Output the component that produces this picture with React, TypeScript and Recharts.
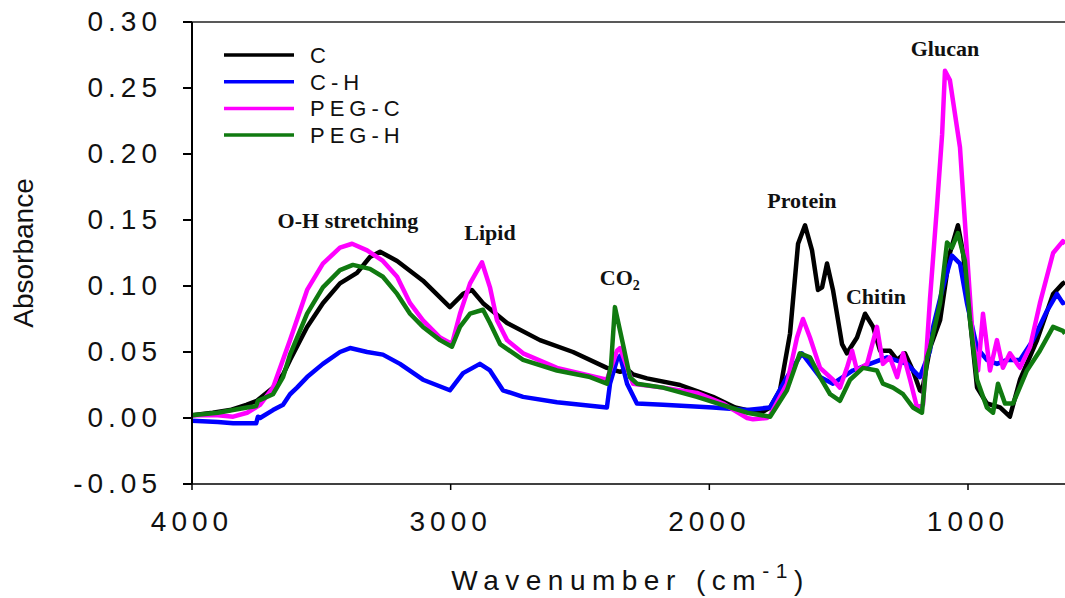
import React from "react";
import { LineChart, Line, XAxis, YAxis, ReferenceLine, ReferenceDot, Legend } from "recharts";

const SANS = '"Liberation Sans", Arial, sans-serif';
const SERIF = '"Liberation Serif", "Times New Roman", serif';

// wavenumber (cm-1) / absorbance
const C_X = [4000, 3920, 3853, 3790, 3749, 3687, 3648, 3621, 3555, 3494, 3428, 3362, 3312, 3273, 3207, 3107, 3003, 2952, 2918, 2875, 2782, 2655, 2527, 2396, 2345, 2318, 2295, 2241, 2113, 1986, 1900, 1854, 1800, 1765, 1727, 1688, 1657, 1630, 1603, 1580, 1564, 1545, 1522, 1487, 1468, 1429, 1398, 1367, 1340, 1302, 1274, 1244, 1213, 1186, 1178, 1147, 1108, 1070, 1039, 1019, 992, 965, 927, 876, 838, 799, 733, 671, 633, 625];
const C_Y = [0.002, 0.004, 0.006, 0.01, 0.013, 0.023, 0.033, 0.044, 0.069, 0.087, 0.102, 0.11, 0.122, 0.126, 0.119, 0.104, 0.084, 0.094, 0.097, 0.087, 0.072, 0.059, 0.05, 0.038, 0.035, 0.037, 0.033, 0.03, 0.025, 0.016, 0.008, 0.006, 0.004, 0.008, 0.021, 0.064, 0.132, 0.146, 0.127, 0.097, 0.099, 0.117, 0.097, 0.056, 0.049, 0.061, 0.079, 0.069, 0.051, 0.051, 0.044, 0.049, 0.036, 0.021, 0.02, 0.053, 0.074, 0.125, 0.146, 0.125, 0.074, 0.023, 0.011, 0.008, 0.001, 0.029, 0.059, 0.094, 0.102, 0.103];

const CH_X = [4000, 3900, 3841, 3787, 3752, 3745, 3737, 3687, 3648, 3621, 3594, 3555, 3494, 3428, 3389, 3323, 3262, 3196, 3107, 3003, 2952, 2887, 2848, 2798, 2720, 2589, 2396, 2384, 2357, 2345, 2318, 2280, 2179, 1986, 1854, 1765, 1700, 1642, 1611, 1572, 1522, 1445, 1379, 1313, 1236, 1186, 1147, 1135, 1097, 1062, 1031, 1004, 965, 927, 888, 849, 799, 749, 695, 656, 633, 625];
const CH_Y = [-0.002, -0.003, -0.004, -0.004, -0.004, 0.001, 0.0, 0.006, 0.01, 0.018, 0.023, 0.031, 0.041, 0.05, 0.053, 0.05, 0.048, 0.041, 0.029, 0.021, 0.034, 0.041, 0.036, 0.021, 0.016, 0.012, 0.008, 0.026, 0.044, 0.047, 0.026, 0.011, 0.01, 0.008, 0.006, 0.008, 0.031, 0.049, 0.041, 0.031, 0.026, 0.036, 0.041, 0.046, 0.041, 0.031, 0.051, 0.069, 0.099, 0.123, 0.117, 0.087, 0.053, 0.044, 0.041, 0.044, 0.044, 0.059, 0.081, 0.094, 0.087, 0.088];

const PC_X = [4000, 3900, 3841, 3787, 3737, 3687, 3621, 3555, 3494, 3428, 3381, 3323, 3262, 3207, 3157, 3107, 3041, 2995, 2964, 2925, 2879, 2848, 2821, 2782, 2720, 2589, 2461, 2396, 2357, 2345, 2295, 2179, 2048, 1947, 1854, 1831, 1777, 1765, 1700, 1661, 1638, 1611, 1572, 1522, 1495, 1468, 1448, 1429, 1390, 1352, 1329, 1302, 1274, 1251, 1224, 1197, 1174, 1147, 1120, 1100, 1089, 1070, 1031, 1004, 981, 961, 942, 915, 888, 865, 838, 799, 760, 722, 671, 633, 625];
const PC_Y = [0.002, 0.002, 0.001, 0.004, 0.01, 0.023, 0.059, 0.097, 0.117, 0.129, 0.132, 0.127, 0.119, 0.107, 0.087, 0.074, 0.061, 0.056, 0.079, 0.102, 0.118, 0.099, 0.074, 0.059, 0.049, 0.038, 0.032, 0.029, 0.051, 0.053, 0.026, 0.023, 0.019, 0.011, 0.0, -0.001, 0.0, 0.002, 0.026, 0.061, 0.075, 0.061, 0.038, 0.029, 0.023, 0.038, 0.051, 0.036, 0.041, 0.069, 0.041, 0.046, 0.031, 0.049, 0.029, 0.008, 0.01, 0.09, 0.16, 0.215, 0.263, 0.256, 0.205, 0.125, 0.059, 0.036, 0.079, 0.036, 0.059, 0.038, 0.049, 0.038, 0.054, 0.087, 0.125, 0.134, 0.132];

const PH_X = [4000, 3900, 3841, 3787, 3752, 3745, 3687, 3648, 3621, 3555, 3494, 3428, 3378, 3312, 3262, 3207, 3157, 3107, 3041, 2995, 2964, 2925, 2875, 2848, 2809, 2720, 2589, 2461, 2396, 2380, 2365, 2334, 2307, 2280, 2179, 2048, 1920, 1854, 1765, 1700, 1650, 1611, 1572, 1533, 1495, 1456, 1406, 1352, 1329, 1290, 1251, 1213, 1178, 1158, 1147, 1108, 1081, 1062, 1039, 1012, 992, 965, 927, 903, 884, 857, 826, 772, 722, 671, 633, 625];
const PH_Y = [0.002, 0.004, 0.006, 0.008, 0.009, 0.013, 0.018, 0.031, 0.048, 0.079, 0.099, 0.112, 0.116, 0.113, 0.107, 0.094, 0.079, 0.069, 0.059, 0.054, 0.069, 0.079, 0.082, 0.072, 0.056, 0.044, 0.036, 0.031, 0.026, 0.04, 0.084, 0.056, 0.031, 0.026, 0.023, 0.016, 0.008, 0.004, 0.001, 0.021, 0.049, 0.046, 0.031, 0.018, 0.013, 0.029, 0.038, 0.036, 0.026, 0.023, 0.018, 0.008, 0.004, 0.046, 0.053, 0.087, 0.133, 0.129, 0.14, 0.119, 0.074, 0.029, 0.008, 0.004, 0.026, 0.011, 0.011, 0.036, 0.051, 0.069, 0.066, 0.064];

const X_TICKS = [4000, 3000, 2000, 1000];
const Y_TICKS = [-0.05, 0, 0.05, 0.1, 0.15, 0.2, 0.25, 0.3];

const NOTES = [
  { text: "O-H stretching", w: 3397, a: 0.144 },
  { text: "Lipid", w: 2848, a: 0.135 },
  { text: "CO2", w: 2346, a: 0.101 },
  { text: "Protein", w: 1642, a: 0.159 },
  { text: "Chitin", w: 1356, a: 0.086 },
  { text: "Glucan", w: 1089, a: 0.274 },
];

const toPoints = (xs: number[], ys: number[]) => xs.map((w, i) => ({ w, a: ys[i] }));

const SERIES = [
  { name: "C", color: "#000000", data: toPoints(C_X, C_Y) },
  { name: "C-H", color: "#0000ff", data: toPoints(CH_X, CH_Y) },
  { name: "PEG-C", color: "#ff00ff", data: toPoints(PC_X, PC_Y) },
  { name: "PEG-H", color: "#107a10", data: toPoints(PH_X, PH_Y) },
];

const YTick = ({ x, y, payload }: any) => (
  <text x={x - 19} y={y + 9} textAnchor="end" fontSize={28} fontFamily={SANS} letterSpacing={5} fill="#111">
    {Number(payload.value).toFixed(2)}
  </text>
);

const XTick = ({ x, y, payload }: any) => (
  <text x={x} y={y + 39} textAnchor="middle" fontSize={28} fontFamily={SANS} letterSpacing={5} fill="#111">
    {payload.value}
  </text>
);

const XTitle = ({ viewBox }: any) => (
  <text x={viewBox.x + viewBox.width / 2 + 2} y={viewBox.y + 106} textAnchor="middle" fontSize={28} fontFamily={SANS} letterSpacing={6.5} fill="#111">
    Wavenumber (cm
    <tspan dy={-12} fontSize={21}>-1</tspan>
    <tspan dy={12}>)</tspan>
  </text>
);

const YTitle = () => (
  <text x={33} y={253} transform="rotate(-90, 33, 253)" textAnchor="middle" fontSize={28} fontFamily={SANS} fill="#111">
    Absorbance
  </text>
);

const noteLabel = (text: string) => ({ viewBox }: any) => (
  <text x={viewBox.x} y={viewBox.y} textAnchor="middle" fontSize={22} fontWeight="bold" fontFamily={SERIF} fill="#111">
    {text === "CO2" ? (
      <>
        CO<tspan dy={5} fontSize={14}>2</tspan>
      </>
    ) : (
      text
    )}
  </text>
);

const LegendBox = () => (
  <svg width={220} height={110}>
    {SERIES.map((s, i) => (
      <g key={s.name}>
        <line x1={0} x2={70} y1={13 + i * 26.7} y2={13 + i * 26.7} stroke={s.color} strokeWidth={3.5} />
        <text x={86} y={21 + i * 26.7} fontSize={22} fontFamily={SANS} letterSpacing={5} fill="#111">
          {s.name}
        </text>
      </g>
    ))}
  </svg>
);

export default function App() {
  return (
    <div style={{ position: "fixed", left: 0, top: 0, width: 1065, height: 598, background: "#fff" }}>
      <LineChart width={1065} height={598} margin={{ top: 22, right: 0, bottom: 0, left: 0 }}>
        <XAxis
          dataKey="w"
          type="number"
          domain={[625, 4000]}
          reversed
          allowDataOverflow
          ticks={X_TICKS}
          height={114}
          tickSize={6}
          tick={<XTick />}
          stroke="#000"
          strokeWidth={1.5}
          label={XTitle}
        />
        <YAxis
          type="number"
          domain={[-0.05, 0.3]}
          allowDataOverflow
          ticks={Y_TICKS}
          width={192}
          tickSize={9}
          tick={<YTick />}
          stroke="#000"
          strokeWidth={2}
          label={YTitle}
        />
        <ReferenceLine y={0.3} stroke="#222" strokeWidth={1.5} />
        {SERIES.map((s) => (
          <Line
            key={s.name}
            data={s.data}
            dataKey="a"
            name={s.name}
            type="linear"
            stroke={s.color}
            strokeWidth={4.5}
            strokeLinejoin="round"
            dot={false}
            isAnimationActive={false}
          />
        ))}
        {NOTES.map((n) => (
          <ReferenceDot key={n.text} x={n.w} y={n.a} r={0} fill="none" stroke="none" label={noteLabel(n.text)} />
        ))}
        <Legend
          layout="vertical"
          align="center"
          verticalAlign="middle"
          content={<LegendBox />}
          wrapperStyle={{ position: "absolute", left: 224, top: 42, width: 220, height: 110 }}
        />
      </LineChart>
    </div>
  );
}
